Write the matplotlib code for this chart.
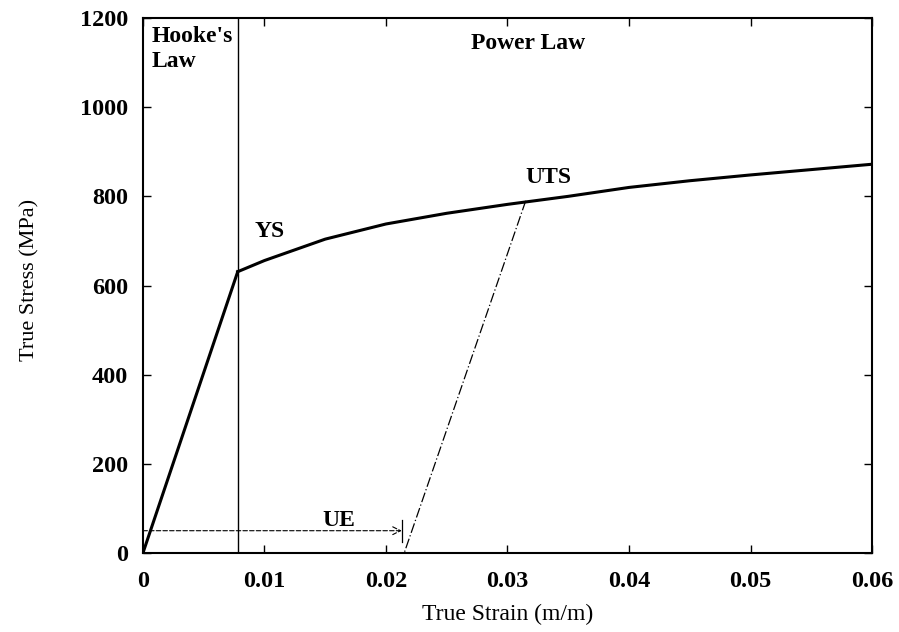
import matplotlib
matplotlib.use("Agg")
import matplotlib.pyplot as plt

# Data
hooke_strain = [0.0, 0.0078]
hooke_stress = [0.0, 631.0]

power_strain = [0.0078, 0.010, 0.015, 0.020, 0.025, 0.030, 0.035, 0.040, 0.045, 0.050, 0.055, 0.060]
power_stress = [631.0, 656.0, 704.0, 738.0, 762.0, 782.0, 800.0, 820.0, 835.0, 848.0, 860.0, 872.0]

unload_strain = [0.0315, 0.0215]
unload_stress = [790.0, 0.0]

ys_strain = 0.0078
ue_strain = 0.0213
ue_level = 50.0

x_ticks = [0, 0.01, 0.02, 0.03, 0.04, 0.05, 0.06]
x_ticklabels = ["0", "0.01", "0.02", "0.03", "0.04", "0.05", "0.06"]
y_ticks = [0, 200, 400, 600, 800, 1000, 1200]

plt.rcParams['font.family'] = ['Liberation Serif', 'DejaVu Serif']

fig = plt.figure(figsize=(8.99, 6.32), dpi=100)
ax = fig.add_axes([0.159, 0.125, 0.811, 0.8465])

ax.plot(hooke_strain, hooke_stress, color='black', lw=2.2)
ax.plot(power_strain, power_stress, color='black', lw=2.2)
ax.plot(unload_strain, unload_stress, color='black', lw=0.9, ls=(0, (8, 2, 1, 2)))
ax.axvline(ys_strain, color='black', lw=1.0)

# UE arrow
ax.annotate("", xy=(ue_strain, ue_level), xytext=(0.0, ue_level),
            arrowprops=dict(arrowstyle='->', color='black', lw=0.8, ls=(0, (4, 2)),
                            shrinkA=0, shrinkB=0, mutation_scale=14))
ax.plot([ue_strain, ue_strain], [ue_level - 25, ue_level + 25], color='black', lw=0.9)

tk = dict(fontsize=17, fontweight='bold', color='black')
ax.text(0.0007, 1183, "Hooke's\nLaw", ha='left', va='top', linespacing=1.3, **tk)
ax.text(0.0317, 1142, "Power Law", ha='center', va='center', **tk)
ax.text(0.0104, 721, "YS", ha='center', va='center', **tk)
ax.text(0.0334, 843, "UTS", ha='center', va='center', **tk)
ax.text(0.0161, 74, "UE", ha='center', va='center', **tk)

ax.set_xlim(0, 0.06)
ax.set_ylim(0, 1200)
ax.set_xticks(x_ticks)
ax.set_xticklabels(x_ticklabels)
ax.set_yticks(y_ticks)
ax.tick_params(direction='in', length=6, width=1.0, top=True, right=True,
               labelsize=17.5)
ax.tick_params(axis='x', pad=13)
ax.tick_params(axis='y', pad=10.5)
for lab in ax.get_xticklabels() + ax.get_yticklabels():
    lab.set_fontweight('bold')
for s in ax.spines.values():
    s.set_linewidth(1.5)

fig.text(508 / 899, 1 - 620 / 632, "True Strain (m/m)", fontsize=17,
         ha='center', va='baseline')
fig.text(30 / 899, 1 - 280 / 632, "True Stress (MPa)", fontsize=16,
         ha='center', va='center', rotation=90)

fig.savefig("out.png", dpi=100)
